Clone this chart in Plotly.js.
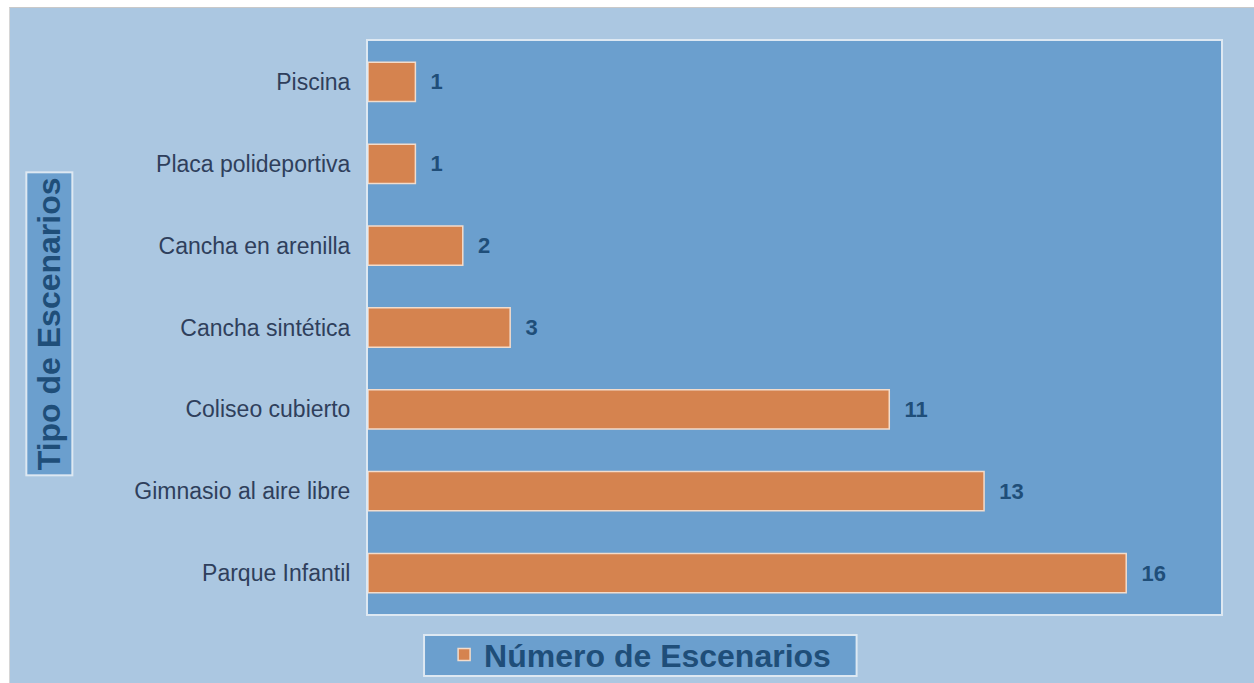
<!DOCTYPE html>
<html>
<head>
<meta charset="utf-8">
<script src="https://cdn.plot.ly/plotly-3.0.1.min.js"></script>
<style>
html,body{margin:0;padding:0;background:#ffffff;width:1254px;height:683px;overflow:hidden;}
#frame{position:absolute;left:9px;top:7px;width:1245px;height:676px;border-top:1px solid #c9c9c9;border-left:1px solid #d6d6d6;box-sizing:border-box;}
#chart{width:1244px;height:675px;}
</style>
</head>
<body>
<div id="frame"><div id="chart"></div></div>
<script>
const categories = ["Parque Infantil","Gimnasio al aire libre","Coliseo cubierto","Cancha sintética","Cancha en arenilla","Placa polideportiva","Piscina"];
const values = [16, 13, 11, 3, 2, 1, 1];
const seriesName = "Número de Escenarios";
const yTitle = "Tipo de Escenarios";

const darkBlue = "#1f4e79";
const trace = {
  type: "bar",
  orientation: "h",
  y: categories,
  x: values,
  name: seriesName,
  text: values.map(v => "\u00a0\u00a0" + v),
  textposition: "outside",
  cliponaxis: false,
  textfont: {family: "Liberation Sans, Arial, sans-serif", size: 22, color: darkBlue, weight: "bold"},
  marker: {color: "#d5834f", line: {color: "#f3dccb", width: 1.5}},
  showlegend: true
};

const layout = {
  width: 1244, height: 675,
  margin: {l: 358, r: 33, t: 33, b: 69, autoexpand: false},
  paper_bgcolor: "#abc7e1",
  plot_bgcolor: "#6b9fce",
  bargap: 0.52,
  font: {family: "Liberation Sans, Arial, sans-serif"},
  xaxis: {range: [0, 18], showticklabels: false, showgrid: false, zeroline: false,
          showline: true, mirror: true, linecolor: "#dde8f2", linewidth: 2, ticks: ""},
  yaxis: {showgrid: false, zeroline: false, showline: true, mirror: true, linecolor: "#dde8f2", linewidth: 2,
          ticks: "", ticklabelstandoff: 11,
          tickfont: {family: "Liberation Sans, Arial, sans-serif", size: 23, color: "#2f3f5c"}},
  showlegend: true,
  legend: {orientation: "h", xref: "paper", x: 0.319, xanchor: "center",
           yref: "container", y: 0.042, yanchor: "middle",
           bgcolor: "rgba(0,0,0,0)", borderwidth: 0,
           font: {family: "Liberation Sans, Arial, sans-serif", size: 32, color: darkBlue, weight: "bold"},
           itemwidth: 30},
  shapes: [{
    type: "rect", xref: "paper", yref: "paper",
    x0: 0.0657, x1: 0.5728, y0: -0.1082, y1: -0.0366,
    fillcolor: "#6b9fce", line: {color: "#dde8f2", width: 2}, layer: "above"
  }],
  annotations: [{
    text: yTitle, textangle: -90, xref: "paper", yref: "paper",
    x: -0.373, y: 0.507, xanchor: "center", yanchor: "middle", showarrow: false,
    font: {family: "Liberation Sans, Arial, sans-serif", size: 32, color: darkBlue, weight: "bold"},
    bgcolor: "#6b9fce", bordercolor: "#dde8f2", borderwidth: 2, borderpad: 4
  }]
};

Plotly.newPlot("chart", [trace], layout, {displayModeBar: false, staticPlot: true});
</script>
</body>
</html>
